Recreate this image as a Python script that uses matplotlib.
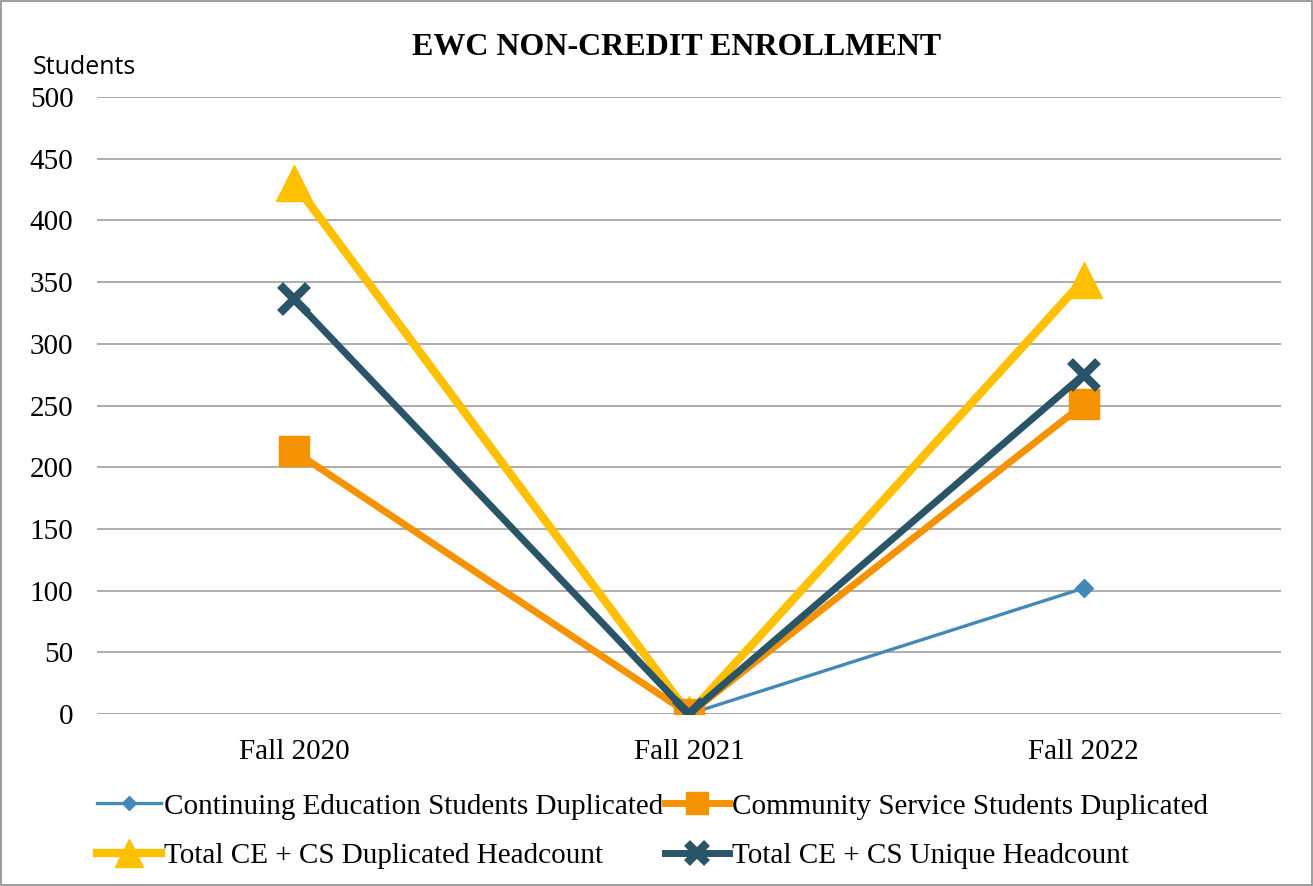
import numpy as np
import matplotlib
matplotlib.use("Agg")
import matplotlib.pyplot as plt
from matplotlib.patches import Rectangle

# Data
terms = ["Fall 2020", "Fall 2021", "Fall 2022"]
ce_dup = [212, 0, 102]
cs_dup = [213, 0, 251]
total_dup = [430, 0, 352]
total_unique = [336, 0, 275]

series_labels = [
    "Continuing Education Students Duplicated",
    "Community Service Students Duplicated",
    "Total CE + CS Duplicated Headcount",
    "Total CE + CS Unique Headcount",
]

serif = ["Liberation Serif", "DejaVu Serif"]
plt.rcParams["font.family"] = serif

fig = plt.figure(figsize=(13.13, 8.86), dpi=100)
ax = fig.add_axes([0.0739, 0.1941, 0.9017, 0.6964])

x = np.arange(len(terms))

h_ce, = ax.plot(x, ce_dup, color="#4389b8", lw=2.4, marker="D", ms=9,
                label=series_labels[0], zorder=3)
h_td, = ax.plot(x, total_dup, color="#ffc000", lw=6, marker="^", ms=26,
                label=series_labels[2], zorder=4)
h_cs, = ax.plot(x, cs_dup, color="#f59200", lw=5, marker="s", ms=22,
                label=series_labels[1], zorder=5)
h_tu, = ax.plot(x, total_unique, color="#2a5468", lw=5, marker="x", ms=20,
                mew=6, label=series_labels[3], zorder=6)

ax.set_xlim(-0.5, 2.5)
ax.set_ylim(0, 500)
ax.set_yticks(np.arange(0, 501, 50))
ax.set_xticks(x)
ax.set_xticklabels(terms)
ax.tick_params(axis="both", length=0, labelsize=21, colors="black")
ax.tick_params(axis="y", pad=17)
ax.tick_params(axis="x", pad=18)
ax.yaxis.grid(True, color="#a6a6a6", lw=1.3)
ax.set_axisbelow(True)
for s in ax.spines.values():
    s.set_visible(False)
ax.axhline(0, color="#a6a6a6", lw=1.3, zorder=1)

fig.text(0.5155, 0.946, "EWC NON-CREDIT ENROLLMENT", ha="center", va="center",
         fontsize=23, fontweight="bold")
fig.text(0.025, 0.924, "Students", ha="left", va="center", fontsize=18,
         family=["Open Sans", "DejaVu Sans"])

# column-first fill, so order to get rows [CE, CS], [Total dup, Total unique]
fig.legend([h_ce, h_td, h_cs, h_tu],
           [series_labels[0], series_labels[2], series_labels[1], series_labels[3]],
           loc="center", bbox_to_anchor=(0.497, 0.062), ncol=2, frameon=False,
           fontsize=21, handlelength=2.2, handletextpad=0.1,
           columnspacing=0.05, markerscale=0.75, labelspacing=0.78)

fig.patches.append(Rectangle((0.001, 0.001), 0.998, 0.998, transform=fig.transFigure,
                             fill=False, edgecolor="#8c8c8c", lw=1.2))

fig.savefig("out.png", dpi=100)
